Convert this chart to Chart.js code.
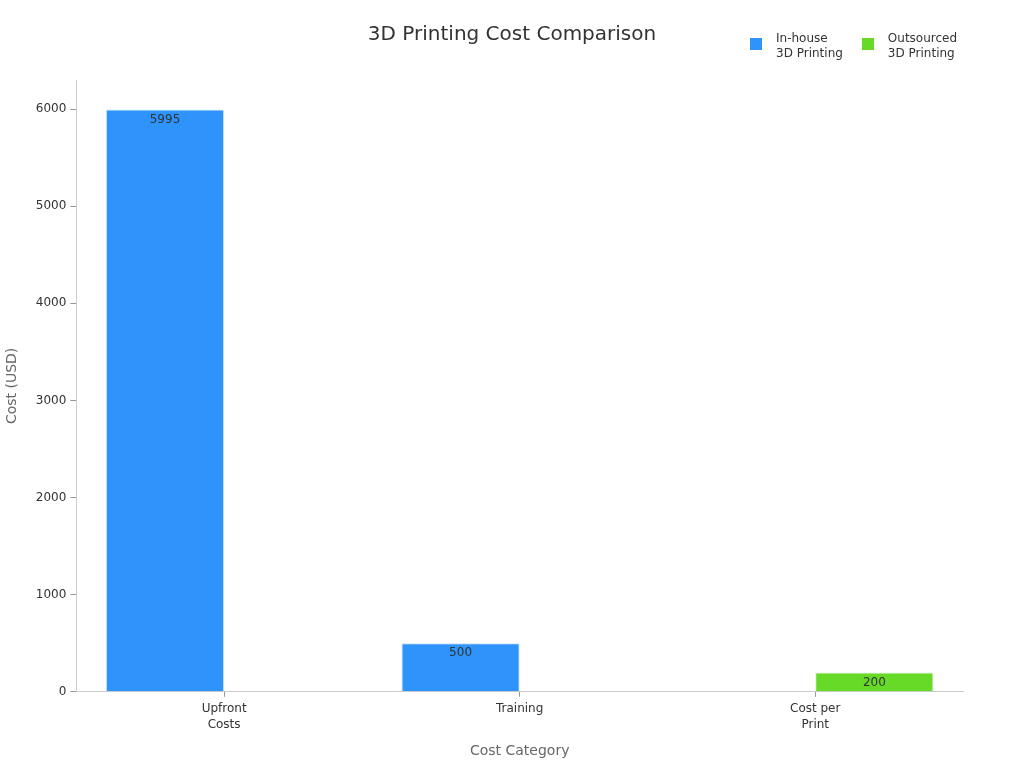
<!DOCTYPE html>
<html>
<head>
<meta charset="utf-8">
<script src="https://cdn.jsdelivr.net/npm/chart.js@4"></script>
<style>
html,body{margin:0;padding:0;background:#fff;}
#wrap{position:relative;width:1024px;height:768px;font-family:"DejaVu Sans",sans-serif;}
#legend{position:absolute;top:31px;left:750px;display:flex;font-size:12px;color:#333;line-height:15px;}
.item{display:flex;align-items:flex-start;margin-right:19px;}
.sw{width:12px;height:12px;margin-top:7px;margin-right:14px;}
</style>
</head>
<body>
<div id="wrap"><canvas id="c"></canvas><div id="legend"></div></div>
<script>
const categories=[['Upfront','Costs'],'Training',['Cost per','Print']];
const inHouse=[5995,500,5];
const outsourced=[0,0,200];
const seriesNames=[['In-house','3D Printing'],['Outsourced','3D Printing']];
const colors=['#2E93FA','#66DA26'];
const yTicks=[0,1000,2000,3000,4000,5000,6000];

Chart.defaults.font.family='"DejaVu Sans", sans-serif';

// legend in html so the two-line names fit
const lg=document.getElementById('legend');
seriesNames.forEach((n,i)=>{
  lg.innerHTML+='<div class="item"><div class="sw" style="background:'+colors[i]+'"></div><div>'+n.join('<br>')+'</div></div>';
});

// value labels just under the top of each bar
const barLabels={
  id:'barLabels',
  afterDatasetsDraw(chart){
    const ctx=chart.ctx;
    ctx.save();
    ctx.font='12px "DejaVu Sans"';
    ctx.fillStyle='#333';
    ctx.textAlign='center';
    ctx.textBaseline='top';
    chart.data.datasets.forEach((ds,i)=>{
      chart.getDatasetMeta(i).data.forEach((bar,j)=>{
        const v=ds.data[j];
        if(v<50)return;
        ctx.fillText(String(v),bar.x,bar.y+4);
      });
    });
    ctx.restore();
  }
};

new Chart(document.getElementById('c'),{
  type:'bar',
  data:{
    labels:categories,
    datasets:[
      {label:'In-house 3D Printing',data:inHouse,backgroundColor:colors[0],borderColor:'rgba(200,225,245,0.9)',borderWidth:1},
      {label:'Outsourced 3D Printing',data:outsourced,backgroundColor:colors[1],borderColor:'rgba(210,240,200,0.9)',borderWidth:1}
    ]
  },
  options:{
    responsive:true,
    maintainAspectRatio:false,
    animation:false,
    layout:{padding:{left:0,right:0,top:8,bottom:4}},
    datasets:{bar:{categoryPercentage:0.8,barPercentage:1.0}},
    plugins:{
      title:{display:true,text:'3D Printing Cost Comparison',color:'#333',font:{size:20,weight:'normal'},padding:{top:15,bottom:33}},
      legend:{display:false},
      tooltip:{enabled:false}
    },
    scales:{
      x:{
        offset:true,
        grid:{offset:false,drawOnChartArea:false,color:'rgba(0,0,0,0)',tickColor:'#999',tickLength:5},
        border:{color:'#ccc'},
        ticks:{color:'#333',font:{size:12,lineHeight:1.35},padding:4},
        title:{display:true,text:'Cost Category',color:'#666',font:{size:14},padding:{top:6}}
      },
      y:{
        min:0,max:6300,
        afterBuildTicks:s=>{s.ticks=yTicks.map(v=>({value:v}));},
        grid:{drawOnChartArea:false,color:'rgba(0,0,0,0)',tickColor:'#999',tickLength:6},
        border:{color:'#ccc'},
        ticks:{color:'#333',font:{size:12},padding:4,callback:v=>String(v)},
        title:{display:true,text:'Cost (USD)',color:'#666',font:{size:14},padding:{bottom:11}}
      },
      // empty right axis only to keep room on the right
      yr:{
        position:'right',
        grid:{display:false},border:{display:false},ticks:{display:false},
        afterFit:s=>{s.width=61;}
      }
    }
  },
  plugins:[barLabels]
});
</script>
</body>
</html>
